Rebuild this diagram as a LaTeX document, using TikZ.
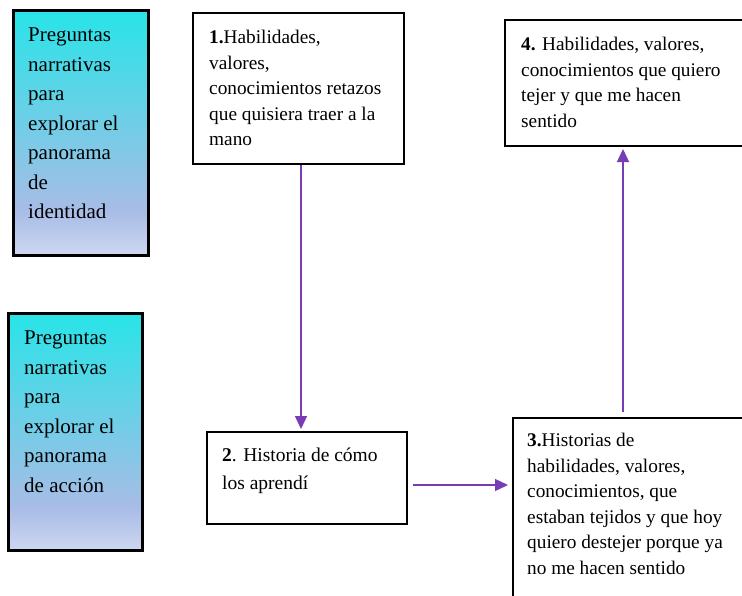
\documentclass[tikz,border=0pt]{standalone}
\usepackage{fontspec}
\setmainfont{Liberation Serif}
\usetikzlibrary{arrows.meta}
\definecolor{topc}{RGB}{40,228,232}
\definecolor{midc}{RGB}{168,188,230}
\definecolor{botc}{RGB}{205,215,240}
\definecolor{arrowc}{RGB}{120,60,180}
\pgfdeclareverticalshading{leftgrad}{100bp}{color(0bp)=(botc); color(25bp)=(botc); color(34bp)=(midc); color(75bp)=(topc); color(100bp)=(topc)}
\tikzset{
  sidebox/.style={draw=black, line width=2.5pt, shading=leftgrad, anchor=north west, inner sep=0pt},
  whitebox/.style={draw=black, line width=2pt, fill=white, anchor=north west, inner sep=0pt},
  sidetext/.style={anchor=north west, inner sep=0pt, align=left, font=\fontsize{21}{29.5}\selectfont},
  boxtext/.style={anchor=north west, inner sep=0pt, align=left, font=\fontsize{19.3}{25.5}\selectfont},
  arr/.style={draw=arrowc, line width=1.4pt, -{Triangle[length=13pt,width=12pt]}}
}
\begin{document}
\begin{tikzpicture}[x=1pt,y=-1pt]
\useasboundingbox (0,0) rectangle (742,595);
\clip (0,0) rectangle (742,595);
% left side boxes
\node[sidebox, minimum width=135pt, minimum height=245pt] (s1) at (12,9) {};
\node[sidetext] (s1t) at (28,28) {Preguntas\\narrativas\\para\\explorar el\\panorama\\de\\identidad};
\node[sidebox, minimum width=134pt, minimum height=237pt] (s2) at (7,312) {};
\node[sidetext] (s2t) at (24,331) {Preguntas\\narrativas\\para\\explorar el\\panorama\\de acción};
% main boxes
\node[whitebox, minimum width=211pt, minimum height=151pt] (b1) at (192,12) {};
\node[boxtext] (b1t) at (209,30) {\textbf{1.}Habilidades,\\valores,\\conocimientos retazos\\que quisiera traer a la\\mano};
\node[whitebox, minimum width=200pt, minimum height=92pt] (b2) at (206,431) {};
\node[boxtext, font=\fontsize{19.5}{28}\selectfont] (b2t) at (222,448) {\textbf{2}. Historia de cómo\\los aprendí};
\node[whitebox, minimum width=240pt, minimum height=200pt] (b3) at (512,417) {};
\node[boxtext] (b3t) at (527,433) {\textbf{3.}Historias de\\habilidades, valores,\\conocimientos, que\\estaban tejidos y que hoy\\quiero destejer porque ya\\no me hacen sentido};
\node[whitebox, minimum width=245pt, minimum height=126pt] (b4) at (504,19) {};
\node[boxtext] (b4t) at (521,37) {\textbf{4.} Habilidades, valores,\\conocimientos que quiero\\tejer y que me hacen\\sentido};
% connectors
\draw[arr] (b1.south -| 301,0) -- ([yshift=2pt]b2.north -| 301,0);
\draw[arr] ([xshift=5pt]b2.east |- 0,485) -- ([xshift=-4pt]b3.west |- 0,485);
\draw[arr] ([yshift=5pt]b3.north -| 623,0) -- ([yshift=-2pt]b4.south -| 623,0);
\end{tikzpicture}
\end{document}
